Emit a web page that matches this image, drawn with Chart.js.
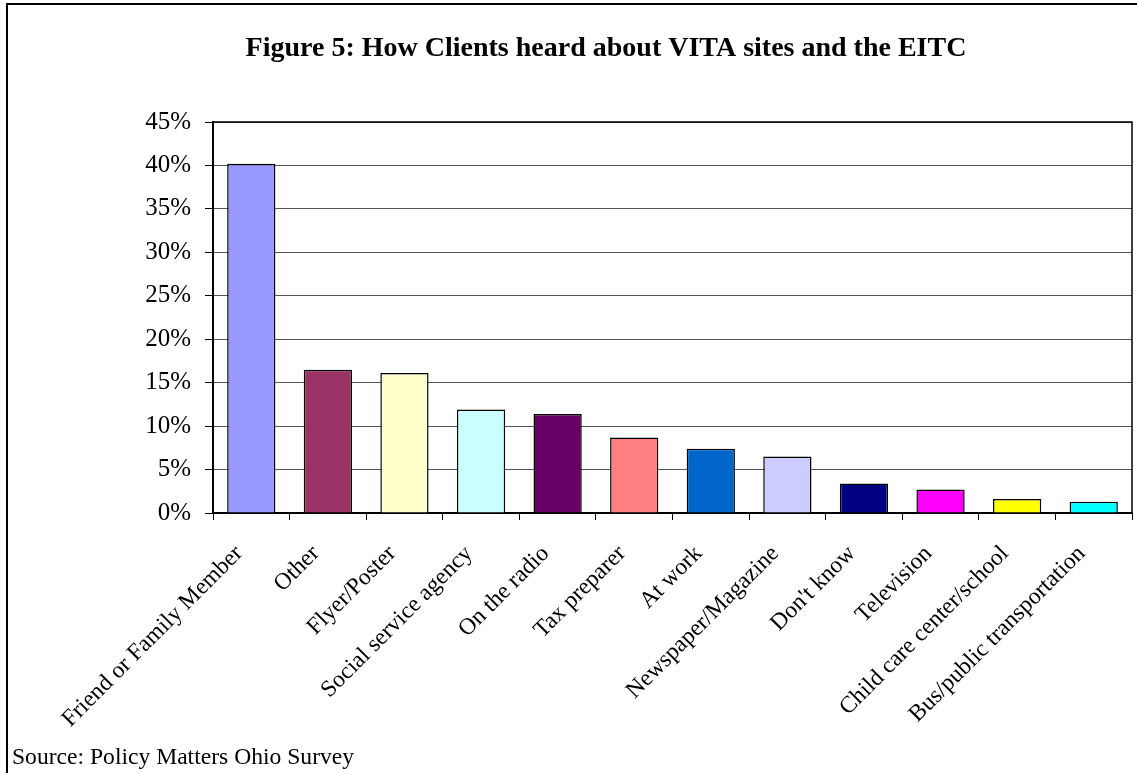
<!DOCTYPE html>
<html>
<head>
<meta charset="utf-8">
<title>How Clients heard about VITA sites and the EITC</title>
<script src="https://cdn.jsdelivr.net/npm/chart.js@4/dist/chart.umd.min.js"></script>
<style>
    html, body { margin: 0; padding: 0; background: #fff; }
    #wrap { width: 1137px; height: 773px; }
</style>
</head>
<body>
<div id="wrap"><canvas id="vitaChart" width="1137" height="773"></canvas></div>
<script>
// Survey answers, share of clients (%)
const sources = [
    'Friend or Family Member', 'Other', 'Flyer/Poster', 'Social service agency',
    'On the radio', 'Tax preparer', 'At work', 'Newspaper/Magazine',
    "Don't know", 'Television', 'Child care center/school', 'Bus/public transportation'
];
const shares = [40.2, 16.5, 16.1, 11.9, 11.4, 8.7, 7.4, 6.5, 3.4, 2.7, 1.6, 1.3];
const barColors = [
    '#9999FF', '#993366', '#FFFFCC', '#CCFFFF', '#660066', '#FF8080',
    '#0066CC', '#CCCCFF', '#000080', '#FF00FF', '#FFFF00', '#00FFFF'
];
const yTicks = [0, 5, 10, 15, 20, 25, 30, 35, 40, 45];

const titleText = 'Figure 5: How Clients heard about VITA sites and the EITC';
const sourceText = 'Source: Policy Matters Ohio Survey';

const serif = "'Liberation Serif', 'Times New Roman', serif";

// Title, source line, page frame and the box round the plot
const decorations = {
    id: 'decorations',
    beforeDatasetsDraw(chart) {
        const { ctx, chartArea: a } = chart;
        ctx.save();
        ctx.strokeStyle = '#000';
        ctx.lineWidth = 1.5;
        ctx.beginPath();
        ctx.moveTo(a.left, a.top);
        ctx.lineTo(a.right, a.top);
        ctx.lineTo(a.right, a.bottom);
        ctx.stroke();
        ctx.restore();
    },
    afterDraw(chart) {
        const ctx = chart.ctx;
        ctx.save();
        ctx.strokeStyle = '#000';
        ctx.lineWidth = 2;
        ctx.beginPath();
        ctx.moveTo(7, 773);
        ctx.lineTo(7, 4);
        ctx.lineTo(1137, 4);
        ctx.stroke();

        ctx.fillStyle = '#000';
        ctx.textBaseline = 'alphabetic';
        ctx.font = 'bold 28px ' + serif;
        ctx.textAlign = 'center';
        ctx.fillText(titleText, 606, 56);

        ctx.font = '23.6px ' + serif;
        ctx.textAlign = 'left';
        ctx.fillText(sourceText, 12, 764);
        ctx.restore();
    }
};

const ctx = document.getElementById('vitaChart').getContext('2d');
const vitaChart = new Chart(ctx, {
    type: 'bar',
    data: {
        labels: sources,
        datasets: [{
            data: shares,
            backgroundColor: barColors,
            borderColor: '#000',
            borderWidth: 1.5,
            barPercentage: 0.63,
            categoryPercentage: 1
        }]
    },
    options: {
        responsive: false,
        animation: false,
        layout: { padding: { top: 122, right: 5, bottom: 0, left: 0 } },
        plugins: {
            legend: { display: false },
            title: { display: false },
            tooltip: { enabled: false }
        },
        scales: {
            x: {
                grid: {
                    display: true,
                    drawOnChartArea: false,
                    drawTicks: true,
                    tickLength: 7,
                    color: '#000',
                    offset: true
                },
                border: { color: '#000', width: 2 },
                ticks: {
                    autoSkip: false,
                    minRotation: 45,
                    maxRotation: 45,
                    padding: 20,
                    labelOffset: -12,
                    color: '#000',
                    font: { family: serif, size: 23.5 }
                },
                afterFit(scale) {
                    scale.height = 260;
                    scale.paddingLeft = 0;
                    scale.paddingRight = 0;
                }
            },
            y: {
                min: 0,
                max: 45,
                afterBuildTicks(scale) {
                    scale.ticks = yTicks.map(v => ({ value: v }));
                },
                grid: {
                    color: '#555',
                    tickColor: '#000',
                    tickLength: 8,
                    lineWidth: 1
                },
                border: { color: '#000', width: 2 },
                ticks: {
                    padding: 14,
                    color: '#000',
                    font: { family: serif, size: 25 },
                    callback: v => v + '%'
                },
                afterFit(scale) {
                    scale.width = 213;
                    scale.paddingTop = 0;
                    scale.paddingBottom = 0;
                }
            }
        }
    },
    plugins: [decorations]
});
</script>
</body>
</html>
